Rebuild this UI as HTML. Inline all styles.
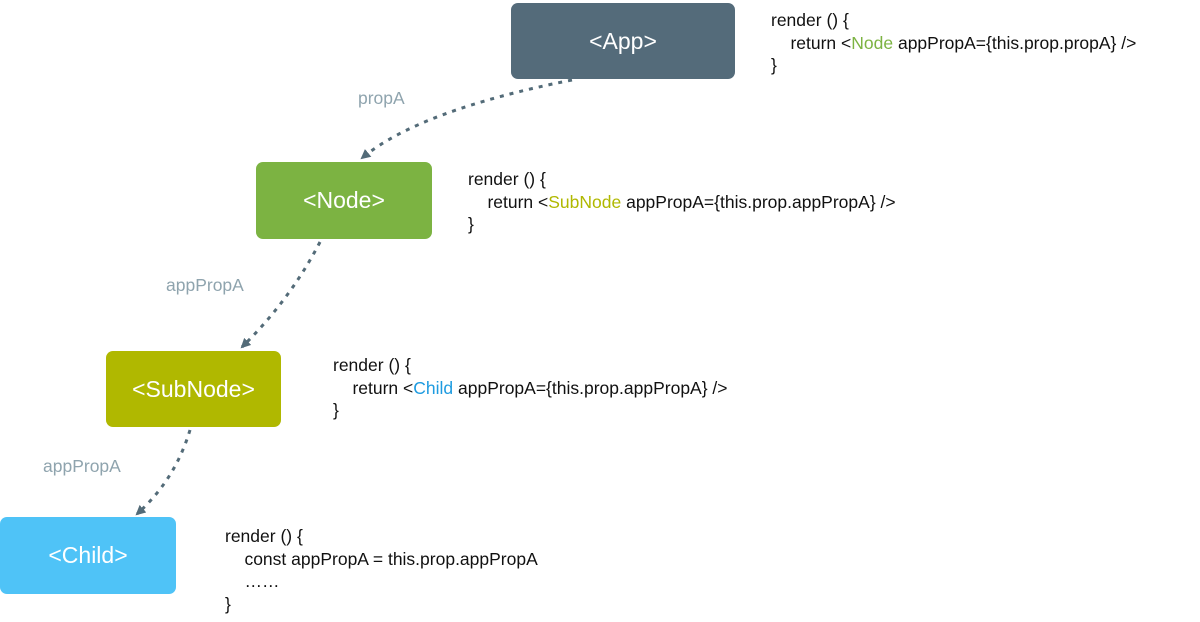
<!DOCTYPE html>
<html><head><meta charset="utf-8"><style>
body{margin:0;width:1200px;height:622px;background:#fff;position:relative;overflow:hidden;font-family:"Liberation Sans",Arial,sans-serif}
.b{position:absolute;border-radius:7px;color:#fff;font-size:23px;display:flex;align-items:center;justify-content:center}
.c{position:absolute;font-size:17.5px;line-height:22.5px;color:#111;white-space:pre}
.l{position:absolute;font-size:17.5px;color:#8fa4ae}
</style></head><body>
<svg width="1200" height="622" style="position:absolute;left:0;top:0">
<defs><marker id="a" markerWidth="10" markerHeight="10" refX="8" refY="5" orient="auto" markerUnits="userSpaceOnUse"><path d="M0,0 L10,5 L0,10 z" fill="#536b78"/></marker></defs>
<g stroke="#536b78" stroke-width="3" stroke-dasharray="4,6" fill="none">
<path d="M572,80 Q420,110 362,158" marker-end="url(#a)"/>
<path d="M320,242 Q290,300 242,347" marker-end="url(#a)"/>
<path d="M190,430 Q175,480 137,514" marker-end="url(#a)"/>
</g></svg>
<div class="b" style="left:511px;top:3px;width:224px;height:76px;background:#546b7a">&lt;App&gt;</div>
<div class="b" style="left:256px;top:162px;width:176px;height:77px;background:#7cb342">&lt;Node&gt;</div>
<div class="b" style="left:106px;top:351px;width:175px;height:76px;background:#b0b800">&lt;SubNode&gt;</div>
<div class="b" style="left:0px;top:517px;width:176px;height:77px;background:#4fc3f7">&lt;Child&gt;</div>
<div class="l" style="left:358px;top:88px">propA</div>
<div class="l" style="left:166px;top:275px">appPropA</div>
<div class="l" style="left:43px;top:456px">appPropA</div>
<div class="c" style="left:771px;top:9px">render () {
    return &lt;<span style="color:#7cb342">Node</span> appPropA={this.prop.propA} /&gt;
}</div>
<div class="c" style="left:468px;top:168px">render () {
    return &lt;<span style="color:#b0b800">SubNode</span> appPropA={this.prop.appPropA} /&gt;
}</div>
<div class="c" style="left:333px;top:354px">render () {
    return &lt;<span style="color:#1e9be0">Child</span> appPropA={this.prop.appPropA} /&gt;
}</div>
<div class="c" style="left:225px;top:525px">render () {
    const appPropA = this.prop.appPropA
    ……
}</div>
</body></html>
